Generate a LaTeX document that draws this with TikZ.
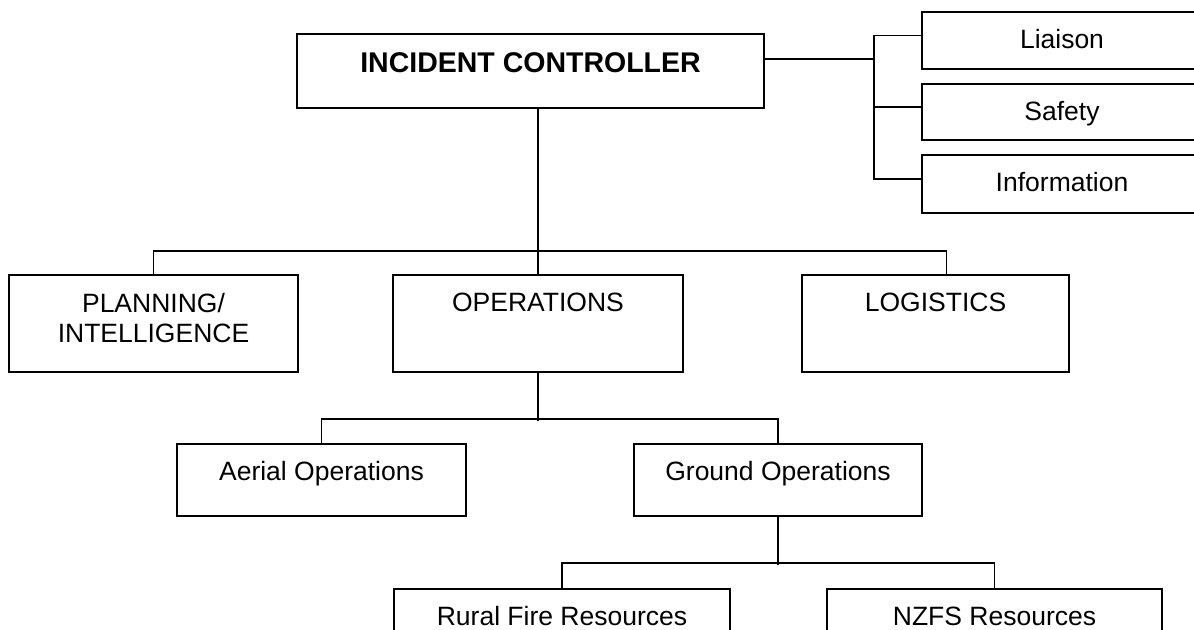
\documentclass[tikz,border=0pt]{standalone}
\usepackage{fontspec}
\setmainfont{Liberation Sans}
\begin{document}
\begin{tikzpicture}[line cap=butt,line join=miter,x=0.5pt,y=-0.5pt,line width=0.9pt,
  orgbox/.style={draw=black,anchor=north,inner sep=0pt,align=center,text height=18.5pt,font=\fontsize{13.25}{15}\selectfont}]
\path[use as bounding box,clip] (0,0) rectangle (1194,629);
\node[orgbox,minimum width=233.5pt,text height=19.5pt,text depth=17.5pt,font=\fontsize{14.25}{16}\selectfont\bfseries] (ic) at (530.5,33) {INCIDENT CONTROLLER};
\node[orgbox,minimum width=140pt,text depth=10pt] (lia) at (1062,11) {Liaison};
\node[orgbox,minimum width=140pt,text depth=9.5pt] (saf) at (1062,83) {Safety};
\node[orgbox,minimum width=140pt,text depth=10.5pt] (inf) at (1062,154) {Information};
\node[orgbox,minimum width=144.5pt,text height=34pt,text depth=14.5pt] (plan) at (153.5,274) {PLANNING/\\INTELLIGENCE};
\node[orgbox,minimum width=145pt,text depth=30pt] (ops) at (538,274) {OPERATIONS};
\node[orgbox,minimum width=133.5pt,text depth=30pt] (log) at (935.5,274) {LOGISTICS};
\node[orgbox,minimum width=144.5pt,text depth=17.5pt] (aer) at (321.5,443) {Aerial Operations};
\node[orgbox,minimum width=144pt,text depth=17.5pt] (gro) at (778,443) {Ground Operations};
\node[orgbox,minimum width=168pt,text depth=21.5pt] (rur) at (562,588) {Rural Fire Resources};
\node[orgbox,minimum width=167.5pt,text depth=21.5pt] (nzf) at (994.5,588) {NZFS Resources};
%staff
\coordinate (sbus) at (875,59);
\draw (ic.east |- sbus) -- (sbus);
\draw ([yshift=2.5pt]lia.west) -- ++(-47,0) |- ([yshift=2.5pt]inf.west);
\draw ([yshift=2.5pt]saf.west) -- ++(-47,0);
%sections
\draw (ops.north) -- (ops.north |- ic.south);
\draw (plan.north) -- ++(0,-23) -| ([xshift=5.5pt]log.north);
\draw (ops.south) -- ++(0,48);
\draw (aer.north) -- ++(0,-24) -| (gro.north);
\draw (gro.south) -- ++(0,48);
\draw (rur.north) -- ++(0,-25) -| (nzf.north);
\end{tikzpicture}
\end{document}
